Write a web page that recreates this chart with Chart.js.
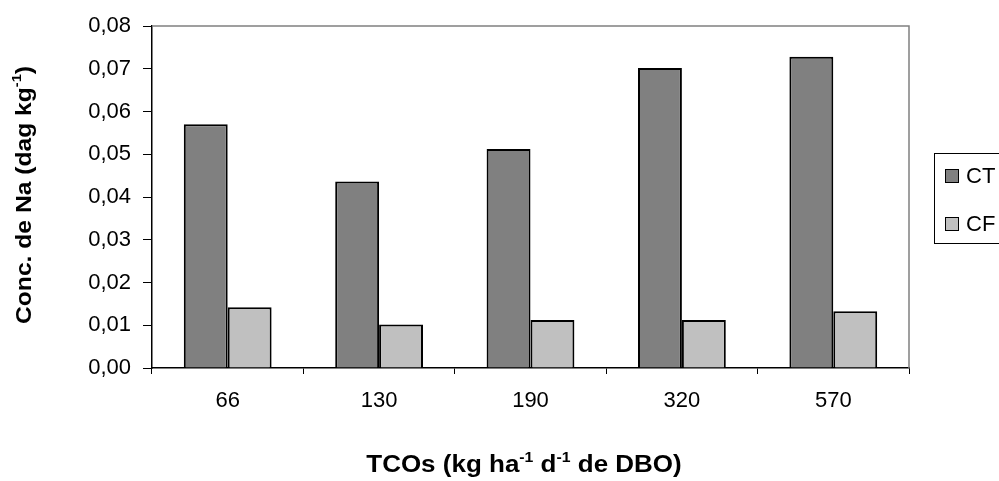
<!DOCTYPE html>
<html>
<head>
<meta charset="utf-8">
<script src="https://cdn.jsdelivr.net/npm/chart.js@4/dist/chart.umd.min.js"></script>
<style>
  html, body { margin: 0; padding: 0; background: #fff; overflow: hidden; }
  #wrap { width: 999px; height: 481px; }
</style>
</head>
<body>
<div id="wrap"><canvas id="chart" width="999" height="481"></canvas></div>
<script>
// data
const categories = ['66', '130', '190', '320', '570'];
const ctValues = [0.0570, 0.0436, 0.0512, 0.0702, 0.0728];
const cfValues = [0.0142, 0.0102, 0.0112, 0.0112, 0.0133];
const seriesNames = ['CT', 'CF'];
const seriesColors = ['#808080', '#c0c0c0'];
const yTitle = [['Conc. de Na (dag kg', ''], ['-1', 'sup'], [')', '']];
const xTitle = [['TCOs (kg ha', ''], ['-1', 'sup'], [' d', ''], ['-1', 'sup'], [' de DBO)', '']];

const FONT = '"Liberation Sans", Arial, sans-serif';

// draws text made of normal + superscript parts, centered at (0,0)
function drawRich(ctx, parts, size) {
  const big = 'bold ' + size + 'px ' + FONT;
  const small = 'bold ' + Math.round(size * 0.6) + 'px ' + FONT;
  let total = 0;
  parts.forEach(p => { ctx.font = p[1] ? small : big; total += ctx.measureText(p[0]).width; });
  let x = -total / 2;
  ctx.textBaseline = 'middle';
  ctx.textAlign = 'left';
  parts.forEach(p => {
    ctx.font = p[1] ? small : big;
    ctx.fillText(p[0], x, p[1] ? -size * 0.36 : 0);
    x += ctx.measureText(p[0]).width;
  });
}

const decor = {
  id: 'decor',
  afterDraw(chart) {
    const ctx = chart.ctx;
    const a = chart.chartArea;
    ctx.save();
    // gray top/right frame
    ctx.strokeStyle = '#808080';
    ctx.lineWidth = 1.5;
    ctx.beginPath();
    ctx.moveTo(a.left, a.top);
    ctx.lineTo(a.right, a.top);
    ctx.lineTo(a.right, a.bottom);
    ctx.stroke();

    ctx.fillStyle = '#000';
    // axis titles (the original text is a bit stretched sideways)
    ctx.save();
    ctx.translate(25, 195);
    ctx.rotate(-Math.PI / 2);
    ctx.scale(1.12, 1);
    drawRich(ctx, yTitle, 22);
    ctx.restore();
    ctx.save();
    ctx.translate(524, 466);
    ctx.scale(1.13, 1);
    drawRich(ctx, xTitle, 23);
    ctx.restore();

    // legend (box runs off the right edge like the reference)
    ctx.strokeStyle = '#000';
    ctx.lineWidth = 1;
    ctx.strokeRect(934.5, 153.5, 90, 90);
    ctx.font = '22px ' + FONT;
    ctx.textBaseline = 'middle';
    ctx.textAlign = 'left';
    chart.data.datasets.forEach((ds, i) => {
      const cy = 176 + i * 48;
      ctx.fillStyle = ds.backgroundColor;
      ctx.fillRect(945.5, cy - 6.5, 13, 13);
      ctx.strokeRect(945.5, cy - 6.5, 13, 13);
      ctx.fillStyle = '#000';
      ctx.fillText(ds.label, 966, cy + 1);
    });
    ctx.restore();
  }
};

new Chart(document.getElementById('chart'), {
  type: 'bar',
  data: {
    labels: categories,
    datasets: [
      { label: seriesNames[0], data: ctValues, backgroundColor: seriesColors[0], borderColor: '#000', borderWidth: 2 },
      { label: seriesNames[1], data: cfValues, backgroundColor: seriesColors[1], borderColor: '#000', borderWidth: 2 }
    ]
  },
  options: {
    responsive: false,
    animation: false,
    layout: { padding: { left: 0, top: 26, right: 90, bottom: 0 } },
    datasets: { bar: { categoryPercentage: 0.58, barPercentage: 1 } },
    plugins: { legend: { display: false }, tooltip: { enabled: false } },
    scales: {
      x: {
        afterFit: s => { s.height = 113; },
        grid: { offset: true, drawOnChartArea: false, drawTicks: true, tickLength: 6, color: '#000' },
        border: { color: '#000', width: 1.5 },
        ticks: { color: '#000', font: { family: FONT, size: 22 }, padding: 14 }
      },
      y: {
        min: 0,
        max: 0.08,
        afterFit: s => { s.width = 152; },
        grid: { drawOnChartArea: false, drawTicks: true, tickLength: 9, color: '#000' },
        border: { color: '#000', width: 1.5 },
        ticks: {
          stepSize: 0.01,
          color: '#000',
          font: { family: FONT, size: 22 },
          padding: 12,
          callback: v => v.toFixed(2).replace('.', ',')
        }
      }
    }
  },
  plugins: [decor]
});
</script>
</body>
</html>
